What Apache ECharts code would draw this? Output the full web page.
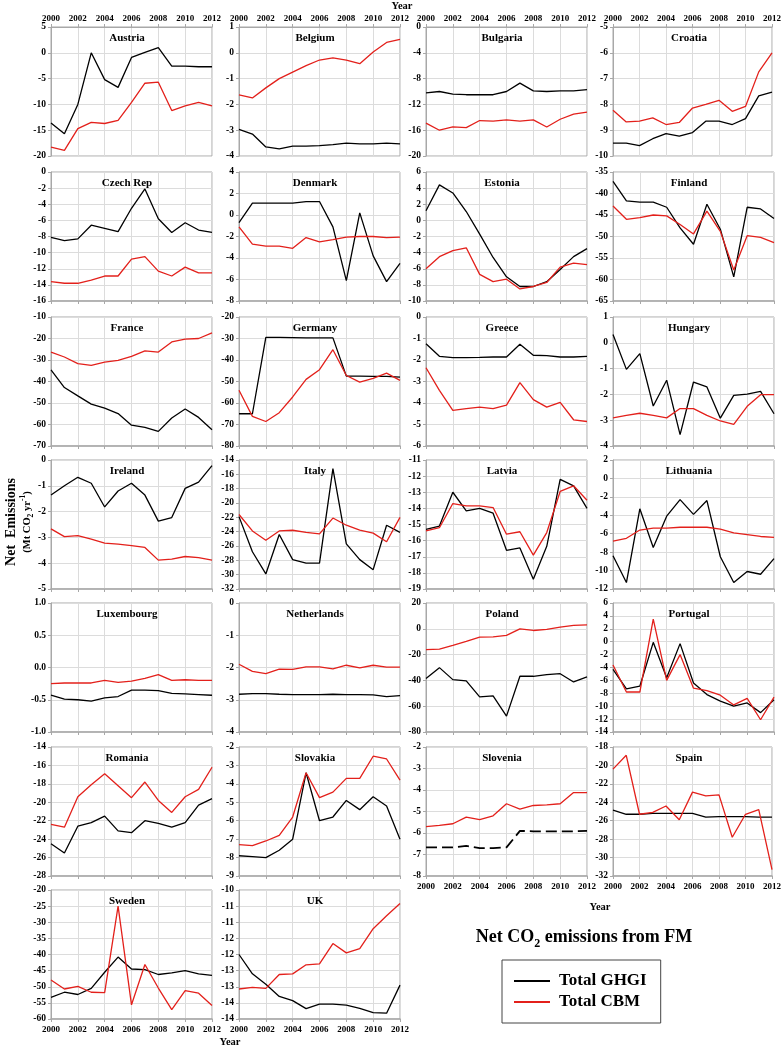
<!DOCTYPE html>
<html>
<head>
<meta charset="utf-8">
<script src="https://cdn.jsdelivr.net/npm/echarts@6/dist/echarts.min.js"></script>
<style>html,body{margin:0;padding:0;background:#fff}#c{width:784px;height:1048px}</style>
</head>
<body>
<div id="c"></div>
<script>
const years = [2000,2001,2002,2003,2004,2005,2006,2007,2008,2009,2010,2011,2012];
const countries = ['Austria','Belgium','Bulgaria','Croatia','Czech Rep','Denmark','Estonia','Finland','France','Germany','Greece','Hungary','Ireland','Italy','Latvia','Lithuania','Luxembourg','Netherlands','Poland','Portugal','Romania','Slovakia','Slovenia','Spain','Sweden','UK'];

const austriaGHGI = [-13.6,-15.7,-10,0,-5.2,-6.7,-0.9,0.1,1.0,-2.6,-2.6,-2.7,-2.7];
const austriaCBM  = [-18.3,-18.9,-14.7,-13.5,-13.7,-13.1,-9.6,-5.9,-5.7,-11.2,-10.3,-9.6,-10.3];
const belgiumGHGI = [-2.97,-3.15,-3.65,-3.72,-3.62,-3.62,-3.6,-3.56,-3.5,-3.53,-3.53,-3.5,-3.53];
const belgiumCBM  = [-1.63,-1.75,-1.36,-1.0,-0.75,-0.5,-0.28,-0.2,-0.28,-0.42,0.03,0.4,0.52];
const bulgariaGHGI = [-10.2,-10.0,-10.4,-10.5,-10.5,-10.5,-10.0,-8.7,-9.9,-10.0,-9.9,-9.9,-9.7];
const bulgariaCBM  = [-14.9,-16.0,-15.5,-15.6,-14.5,-14.6,-14.4,-14.6,-14.4,-15.5,-14.3,-13.5,-13.2];
const croatiaGHGI = [-9.5,-9.5,-9.6,-9.33,-9.13,-9.23,-9.09,-8.65,-8.65,-8.78,-8.55,-7.67,-7.52];
const croatiaCBM  = [-8.23,-8.68,-8.65,-8.52,-8.78,-8.7,-8.14,-8.0,-7.84,-8.27,-8.08,-6.74,-6.0];
const czechGHGI = [-8.1,-8.5,-8.3,-6.6,-7.0,-7.4,-4.5,-2.1,-5.8,-7.5,-6.3,-7.2,-7.5];
const czechCBM  = [-13.6,-13.8,-13.8,-13.4,-12.9,-12.9,-10.8,-10.5,-12.3,-12.9,-11.8,-12.5,-12.5];
const denmarkGHGI = [-0.7,1.1,1.1,1.1,1.1,1.25,1.25,-1.1,-6.1,0.2,-3.8,-6.2,-4.5];
const denmarkCBM  = [-1.1,-2.7,-2.9,-2.9,-3.1,-2.1,-2.5,-2.3,-2.05,-2.0,-2.0,-2.1,-2.05];
const estoniaGHGI = [1.2,4.4,3.4,1.1,-1.7,-4.6,-7.0,-8.2,-8.2,-7.6,-6.1,-4.5,-3.5];
const estoniaCBM  = [-6.0,-4.5,-3.75,-3.4,-6.7,-7.6,-7.3,-8.5,-8.2,-7.7,-5.8,-5.3,-5.5];
const finlandGHGI = [-37.2,-41.7,-42,-42,-43.2,-48,-51.8,-42.5,-48.3,-59.4,-43.2,-43.6,-45.8];
const finlandCBM  = [-42.9,-46,-45.6,-45,-45.2,-47.2,-49.4,-44.1,-48.8,-57.8,-49.8,-50.2,-51.4];
const franceGHGI = [-34.6,-42.8,-46.7,-50.5,-52.4,-54.9,-60.3,-61.3,-63.2,-57,-52.8,-56.7,-62.4];
const franceCBM  = [-26.3,-28.6,-31.7,-32.5,-31,-30.2,-28.3,-25.8,-26.3,-21.6,-20.3,-20,-17.4];
const germanyGHGI = [-65,-65,-29.5,-29.5,-29.6,-29.7,-29.7,-29.7,-47.5,-47.5,-47.6,-47.6,-48];
const germanyCBM  = [-54.1,-66.2,-68.6,-64.5,-57.2,-49,-44.5,-35.2,-47.2,-50.3,-48.5,-46.1,-49.5];
const greeceGHGI = [-1.24,-1.83,-1.89,-1.89,-1.88,-1.86,-1.86,-1.27,-1.78,-1.8,-1.86,-1.86,-1.83];
const greeceCBM  = [-2.36,-3.41,-4.34,-4.26,-4.19,-4.26,-4.1,-3.05,-3.84,-4.19,-3.97,-4.78,-4.86];
const hungaryGHGI = [0.32,-1.03,-0.42,-2.45,-1.45,-3.56,-1.52,-1.71,-2.92,-2.04,-1.99,-1.88,-2.75];
const hungaryCBM  = [-2.91,-2.81,-2.73,-2.81,-2.91,-2.55,-2.55,-2.81,-3.03,-3.16,-2.46,-2.01,-2.01];
const irelandGHGI = [-1.36,-1.0,-0.67,-0.9,-1.82,-1.2,-0.9,-1.36,-2.37,-2.23,-1.1,-0.86,-0.22];
const irelandCBM  = [-2.67,-2.97,-2.93,-3.07,-3.22,-3.26,-3.32,-3.39,-3.88,-3.84,-3.74,-3.78,-3.88];
const italyGHGI = [-21.9,-26.8,-29.9,-24.4,-27.9,-28.4,-28.4,-15.2,-25.7,-27.9,-29.3,-23.1,-24.1];
const italyCBM  = [-21.6,-23.9,-25.2,-23.9,-23.8,-24.1,-24.3,-22.1,-23.1,-23.8,-24.2,-25.4,-22.0];
const latviaGHGI = [-15.3,-15.1,-13.0,-14.15,-14.0,-14.3,-16.6,-16.45,-18.4,-16.35,-12.2,-12.6,-14.0];
const latviaCBM  = [-15.4,-15.2,-13.7,-13.85,-13.85,-13.95,-15.6,-15.45,-16.9,-15.5,-12.95,-12.6,-13.5];
const lithuaniaGHGI = [-8.4,-11.3,-3.3,-7.5,-4.1,-2.3,-3.9,-2.4,-8.5,-11.3,-10.1,-10.4,-8.7];
const lithuaniaCBM  = [-6.8,-6.5,-5.6,-5.4,-5.4,-5.3,-5.3,-5.3,-5.5,-5.9,-6.1,-6.3,-6.4];
const luxembourgGHGI = [-0.43,-0.49,-0.5,-0.52,-0.47,-0.45,-0.35,-0.35,-0.36,-0.4,-0.41,-0.42,-0.43];
const luxembourgCBM  = [-0.25,-0.24,-0.24,-0.24,-0.2,-0.23,-0.21,-0.17,-0.11,-0.2,-0.19,-0.2,-0.2];
const netherlandsGHGI = [-2.83,-2.81,-2.81,-2.83,-2.84,-2.84,-2.84,-2.83,-2.84,-2.84,-2.85,-2.9,-2.87];
const netherlandsCBM  = [-1.9,-2.12,-2.19,-2.05,-2.06,-1.98,-1.98,-2.04,-1.93,-2.01,-1.93,-1.99,-1.99];
const polandGHGI = [-38.6,-30.1,-39.4,-40.4,-52.8,-52,-67.7,-36.8,-36.8,-35.5,-34.8,-41.2,-37.3];
const polandCBM  = [-16.2,-15.7,-12.9,-9.8,-6.4,-6.2,-5.1,0,-1.3,-0.5,1.3,2.6,3.1];
const portugalGHGI = [-4.3,-7.3,-6.9,-0.1,-5.6,-0.3,-6.4,-8.2,-9.2,-10.0,-9.5,-11.0,-9.0];
const portugalCBM  = [-3.6,-7.8,-7.8,3.5,-6.0,-2.0,-7.2,-7.6,-8.3,-9.8,-8.8,-12.1,-8.6];
const romaniaGHGI = [-24.5,-25.5,-22.6,-22.2,-21.5,-23.1,-23.3,-22.0,-22.3,-22.7,-22.2,-20.3,-19.6];
const romaniaCBM  = [-22.4,-22.7,-19.4,-18.1,-16.9,-18.2,-19.5,-17.8,-19.8,-21.1,-19.4,-18.6,-16.2];
const slovakiaGHGI = [-7.9,-7.95,-8.0,-7.6,-7.0,-3.4,-6.0,-5.8,-4.9,-5.4,-4.7,-5.2,-7.0];
const slovakiaCBM  = [-7.3,-7.35,-7.1,-6.8,-5.8,-3.4,-4.75,-4.45,-3.7,-3.7,-2.5,-2.65,-3.8];
const sloveniaGHGI = [-6.67,-6.67,-6.67,-6.6,-6.7,-6.7,-6.67,-5.9,-5.92,-5.92,-5.92,-5.92,-5.9];
const sloveniaCBM  = [-5.7,-5.65,-5.57,-5.26,-5.38,-5.2,-4.64,-4.89,-4.72,-4.69,-4.64,-4.12,-4.12];
const spainGHGI = [-24.85,-25.3,-25.3,-25.2,-25.2,-25.2,-25.2,-25.6,-25.55,-25.55,-25.55,-25.6,-25.6];
const spainCBM  = [-20.4,-18.9,-25.3,-25.1,-24.4,-25.9,-22.9,-23.3,-23.2,-27.8,-25.3,-24.8,-31.3];
const swedenGHGI = [-53.3,-51.7,-52.4,-50.5,-45.5,-40.8,-44.5,-44.7,-46.2,-45.7,-45,-46,-46.5];
const swedenCBM  = [-47.9,-50.7,-49.9,-51.7,-51.8,-25,-55.6,-43.1,-50.4,-57.1,-51.2,-52,-55.8];
const ukGHGI = [-12.0,-12.6,-12.92,-13.3,-13.43,-13.68,-13.54,-13.54,-13.57,-13.67,-13.8,-13.82,-12.95];
const ukCBM  = [-13.07,-13.02,-13.05,-12.62,-12.6,-12.32,-12.29,-11.66,-11.95,-11.82,-11.2,-10.8,-10.42];

const ghgiSeries = [austriaGHGI,belgiumGHGI,bulgariaGHGI,croatiaGHGI,czechGHGI,denmarkGHGI,estoniaGHGI,finlandGHGI,franceGHGI,germanyGHGI,greeceGHGI,hungaryGHGI,irelandGHGI,italyGHGI,latviaGHGI,lithuaniaGHGI,luxembourgGHGI,netherlandsGHGI,polandGHGI,portugalGHGI,romaniaGHGI,slovakiaGHGI,sloveniaGHGI,spainGHGI,swedenGHGI,ukGHGI];
const cbmSeries = [austriaCBM,belgiumCBM,bulgariaCBM,croatiaCBM,czechCBM,denmarkCBM,estoniaCBM,finlandCBM,franceCBM,germanyCBM,greeceCBM,hungaryCBM,irelandCBM,italyCBM,latviaCBM,lithuaniaCBM,luxembourgCBM,netherlandsCBM,polandCBM,portugalCBM,romaniaCBM,slovakiaCBM,sloveniaCBM,spainCBM,swedenCBM,ukCBM];

// y-axis tick ranges (min, max, step) per panel
const yMin  = [-20,-4,-20,-10,-16,-8,-10,-65,-70,-80,-6,-4,-5,-32,-19,-12,-1,-4,-80,-14,-28,-9,-8,-32,-60,-14];
const yMax  = [5,1,0,-5,0,4,6,-35,-10,-20,0,1,0,-14,-11,2,1,0,20,6,-14,-2,-2,-18,-20,-10];
const yStep = [5,1,4,1,2,2,2,5,10,10,1,1,1,2,1,2,0.5,1,20,2,2,1,1,2,5,0.5];
const yLabelStyle = countries.map(c => c === 'Luxembourg' ? 'dec1' : (c === 'UK' ? 'round' : 'int'));

const seriesNames = ['Total GHGI','Total CBM'];
const FONT = "'Liberation Serif','Times New Roman',serif";

// layout
const colLeft = [51, 239, 426, 613];
const rowTop = [27, 172, 317, 460, 603, 747, 890];
const W = 161, H = 129;

const grids = [], xAxes = [], yAxes = [], series = [], graphics = [];
countries.forEach((name, i) => {
  const r = Math.floor(i / 4), c = i % 4;
  const left = colLeft[c], top = rowTop[r];
  grids.push({left: left, top: top, width: W, height: H, show: true, borderColor: '#a8a8a8', borderWidth: 1, containLabel: false});
  const topRow = r === 0;
  const bottomLab = ['Slovenia','Spain','Sweden','UK'].indexOf(name) >= 0;
  xAxes.push({
    type: 'value', gridIndex: i, min: 2000, max: 2012, interval: 2,
    position: topRow ? 'top' : 'bottom',
    axisLine: {show: true, onZero: false, lineStyle: {color: '#a8a8a8', width: topRow ? 1 : 1.5}},
    axisTick: {show: true, length: 3, inside: false, lineStyle: {color: '#a8a8a8'}},
    splitLine: {show: true, lineStyle: {color: '#dcdcdc', width: 1}},
    axisLabel: {show: topRow || bottomLab, fontFamily: FONT, fontWeight: 'bold', fontSize: 9, color: '#000', margin: topRow ? 4 : 6, formatter: v => String(v)}
  });
  const lab = yLabelStyle[i];
  yAxes.push({
    type: 'value', gridIndex: i, min: yMin[i], max: yMax[i], interval: yStep[i],
    axisLine: {show: true, onZero: false, lineStyle: {color: '#a8a8a8'}},
    axisTick: {show: true, length: 3, lineStyle: {color: '#a8a8a8'}},
    splitLine: {show: true, lineStyle: {color: '#dcdcdc', width: 1}},
    axisLabel: {fontFamily: FONT, fontWeight: 'bold', fontSize: 9.5, color: '#000', margin: 5,
      formatter: v => lab === 'dec1' ? v.toFixed(1) : (lab === 'round' ? String(-Math.round(-v)) : String(Math.round(v)))}
  });
  const isSlovenia = name === 'Slovenia';
  series.push({
    name: seriesNames[0], type: 'line', xAxisIndex: i, yAxisIndex: i, symbol: 'none', animation: false,
    data: years.map((y, k) => [y, ghgiSeries[i][k]]),
    lineStyle: {color: '#000', width: isSlovenia ? 1.8 : 1.3, type: isSlovenia ? [11, 5] : 'solid'},
    itemStyle: {color: '#000'}, z: 3
  });
  series.push({
    name: seriesNames[1], type: 'line', xAxisIndex: i, yAxisIndex: i, symbol: 'none', animation: false,
    data: years.map((y, k) => [y, cbmSeries[i][k]]),
    lineStyle: {color: '#e3201b', width: 1.3},
    itemStyle: {color: '#e3201b'}, z: 4
  });
  graphics.push({type: 'text', x: left + 76, y: top + 11, z: 10,
    style: {text: name, fontFamily: FONT, fontWeight: 'bold', fontSize: 11, fill: '#000', align: 'center', verticalAlign: 'middle'}});
});

// axis titles
graphics.push({type: 'text', x: 402, y: 6, style: {text: 'Year', fontFamily: FONT, fontWeight: 'bold', fontSize: 10.5, fill: '#000', align: 'center', verticalAlign: 'middle'}});
graphics.push({type: 'text', x: 600, y: 907, style: {text: 'Year', fontFamily: FONT, fontWeight: 'bold', fontSize: 10.5, fill: '#000', align: 'center', verticalAlign: 'middle'}});
graphics.push({type: 'text', x: 230, y: 1042, style: {text: 'Year', fontFamily: FONT, fontWeight: 'bold', fontSize: 10.5, fill: '#000', align: 'center', verticalAlign: 'middle'}});
graphics.push({type: 'text', x: 11, y: 522, rotation: Math.PI / 2,
  style: {text: 'Net  Emissions', fontFamily: FONT, fontWeight: 'bold', fontSize: 14, fill: '#000', align: 'center', verticalAlign: 'middle'}});
graphics.push({type: 'text', x: 27, y: 522, rotation: Math.PI / 2,
  style: {text: '{a|(Mt CO}{s|2}{a| yr}{p|-1}{a|)}', fill: '#000', align: 'center', verticalAlign: 'middle',
    rich: {a: {fontFamily: FONT, fontWeight: 'bold', fontSize: 10.5, lineHeight: 16, verticalAlign: 'middle'},
           s: {fontFamily: FONT, fontWeight: 'bold', fontSize: 7.5, lineHeight: 16, verticalAlign: 'bottom'},
           p: {fontFamily: FONT, fontWeight: 'bold', fontSize: 7.5, lineHeight: 16, verticalAlign: 'top'}}}});
// main title
graphics.push({type: 'text', x: 584, y: 937,
  style: {text: '{a|Net CO}{s|2}{a| emissions from FM}', fill: '#000', align: 'center', verticalAlign: 'middle',
    rich: {a: {fontFamily: FONT, fontWeight: 'bold', fontSize: 18, lineHeight: 26, verticalAlign: 'middle'},
           s: {fontFamily: FONT, fontWeight: 'bold', fontSize: 12, lineHeight: 26, verticalAlign: 'bottom'}}}});

const chart = echarts.init(document.getElementById('c'), null, {renderer: 'canvas'});
chart.setOption({
  animation: false,
  backgroundColor: '#fff',
  grid: grids, xAxis: xAxes, yAxis: yAxes, series: series,
  legend: {
    data: seriesNames, orient: 'vertical', left: 502, top: 960,
    icon: 'rect', itemWidth: 36, itemHeight: 2,
    padding: [11, 14, 11, 12], itemGap: 1,
    borderColor: '#444', borderWidth: 1, backgroundColor: '#fff',
    textStyle: {fontFamily: FONT, fontWeight: 'bold', fontSize: 17, color: '#000', lineHeight: 20, padding: [0, 0, 0, 4]}
  },
  graphic: graphics
});
</script>
</body>
</html>
